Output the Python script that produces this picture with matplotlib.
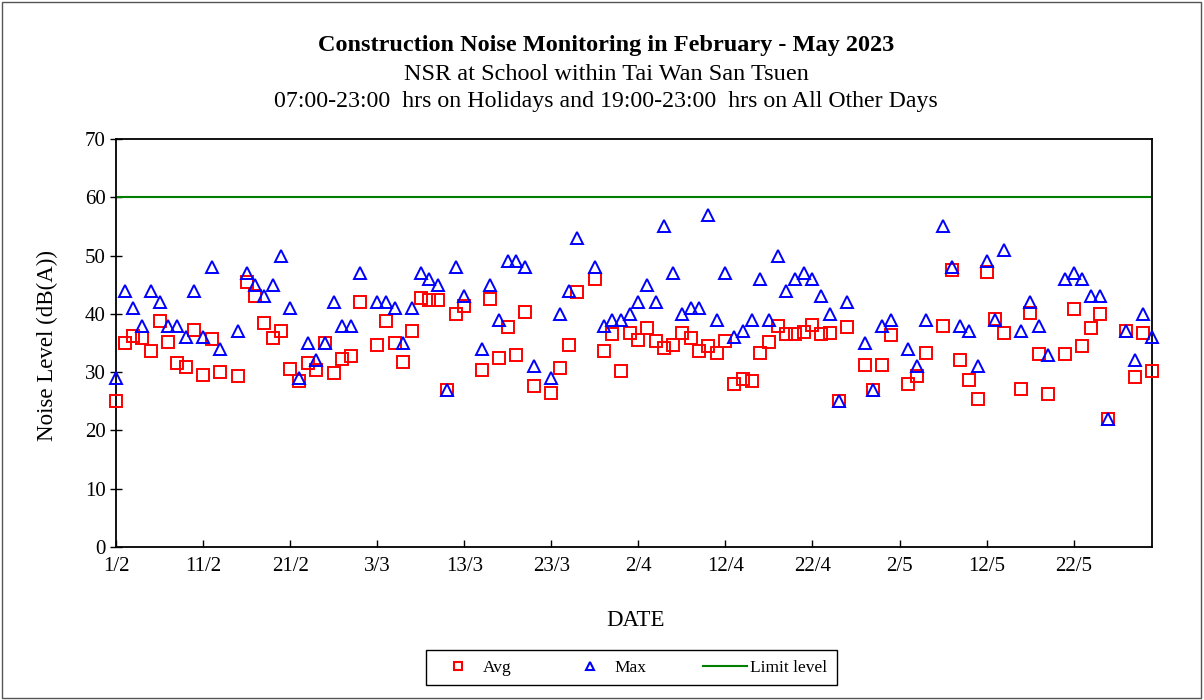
import numpy as np
import pandas as pd
import matplotlib
matplotlib.use("Agg")
import matplotlib.pyplot as plt
from matplotlib.lines import Line2D
from matplotlib.patches import Rectangle

plt.rcParams['font.family'] = ['Liberation Serif', 'DejaVu Serif']

dates = pd.date_range("2023-02-01", "2023-05-31", freq="D")
nan = np.nan
avg = [25.0, 35.0, 36.2, 35.8, 33.6, 38.7, 35.2, 31.5, 30.8, 37.2,
       29.5, 35.7, 30.0, nan, 29.4, 45.5, 43.1, 38.4, 35.9, 37.1,
       30.5, 28.5, 31.5, 30.4, 35.0, 29.8, 32.2, 32.8, 42.1, nan,
       34.7, 38.7, 35.0, 31.8, 37.1, 42.8, 42.4, 42.4, 27.0, 40.0,
       41.3, nan, 30.3, 42.5, 32.4, 37.7, 32.9, 40.4, 27.7, nan,
       26.5, 30.7, 34.7, 43.7, nan, 46.0, 33.7, 36.5, 30.2, 36.7,
       35.6, 37.5, 35.4, 34.2, 34.7, 36.7, 35.9, 33.7, 34.5, 33.3,
       35.3, 28.0, 28.8, 28.5, 33.2, 35.2, 37.9, 36.5, 36.5, 36.9,
       38.1, 36.5, 36.8, 25.0, 37.7, nan, 31.3, 27.0, 31.3, 36.4,
       nan, 28.0, 29.3, 33.2, nan, 38.0, 47.6, 32.0, 28.7, 25.4,
       47.1, 39.1, 36.8, nan, 27.1, 40.1, 33.1, 26.2, nan, 33.1,
       40.8, 34.4, 37.5, 40.0, 22.0, nan, 37.1, 29.2, 36.8, 30.2]
mx = [29, 44, 41, 38, 44, 42, 38, 38, 36, 44,
      36, 48, 34, nan, 37, 47, 45, 43, 45, 50,
      41, 29, 35, 32, 35, 42, 38, 38, 47, nan,
      42, 42, 41, 35, 41, 47, 46, 45, 27, 48,
      43, nan, 34, 45, 39, 49, 49, 48, 31, nan,
      29, 40, 44, 53, nan, 48, 38, 39, 39, 40,
      42, 45, 42, 55, 47, 40, 41, 41, 57, 39,
      47, 36, 37, 39, 46, 39, 50, 44, 46, 47,
      46, 43, 40, 25, 42, nan, 35, 27, 38, 39,
      nan, 34, 31, 39, nan, 55, 48, 38, 37, 31,
      49, 39, 51, nan, 37, 42, 38, 33, nan, 46,
      47, 46, 43, 43, 22, nan, 37, 32, 40, 36]
limit_level = 60
tick_dates = ["2023-02-01", "2023-02-11", "2023-02-21", "2023-03-03", "2023-03-13",
              "2023-03-23", "2023-04-02", "2023-04-12", "2023-04-22", "2023-05-02",
              "2023-05-12", "2023-05-22"]
tick_labels = ["1/2", "11/2", "21/2", "3/3", "13/3", "23/3", "2/4", "12/4",
               "22/4", "2/5", "12/5", "22/5"]

fig = plt.figure(figsize=(12.04, 7.0), dpi=100)
ax = fig.add_axes([116/1204, 1-547/700, (1152-116)/1204, (547-139)/700])

ax.plot(dates, avg, ls='none', marker='s', ms=8, mfc='none', mec='red', mew=1.4,
        clip_on=False, zorder=3)
ax.plot(dates, mx, ls='none', marker='^', ms=8, mfc='none', mec='blue', mew=1.4,
        clip_on=False, zorder=3)
ax.axhline(limit_level, color='green', lw=1.5)

ax.set_xlim(pd.Timestamp("2023-02-01"), pd.Timestamp("2023-05-31"))
ax.set_ylim(0, 70)
ax.set_yticks(range(0, 71, 10))
ax.set_xticks(pd.to_datetime(tick_dates))
ax.set_xticklabels(tick_labels)
ax.tick_params(axis='y', direction='inout', length=9, width=1, labelsize=15, pad=3)
ax.tick_params(axis='x', direction='in', length=5, width=1, labelsize=15, pad=7)
for s in ax.spines.values():
    s.set_linewidth(1.3)

fig.text(606/1204, 1-45/700, "Construction Noise Monitoring in February - May 2023",
         ha='center', va='center', fontsize=17.5, fontweight='bold')
fig.text(606/1204, 1-74/700, "NSR at School within Tai Wan San Tsuen",
         ha='center', va='center', fontsize=17.5)
fig.text(606/1204, 1-102/700, "07:00-23:00  hrs on Holidays and 19:00-23:00  hrs on All Other Days",
         ha='center', va='center', fontsize=17.2)
fig.text(47/1204, 1-346/700, "Noise Level (dB(A))", rotation=90,
         ha='center', va='center', fontsize=16.5)
fig.text(636/1204, 1-621/700, "DATE", ha='center', va='center', fontsize=16.5)

handles = [
    Line2D([], [], ls='none', marker='s', ms=6, mfc='none', mec='red', mew=1.5),
    Line2D([], [], ls='none', marker='^', ms=6, mfc='none', mec='blue', mew=1.5),
    Line2D([], [], color='green', lw=1.5),
]
leg = fig.legend(handles, ["Avg", "Max", "Limit level"], loc='center',
                 bbox_to_anchor=(631.5/1204, 1-667.5/700), ncol=3,
                 fontsize=12.5, frameon=True, fancybox=False, shadow=False,
                 handlelength=2.5, handletextpad=0.2, columnspacing=3.25,
                 borderpad=0.55, edgecolor='black', framealpha=1)
leg.get_frame().set_linewidth(1.0)

fig.patches.append(Rectangle((0.0015, 0.003), 0.996, 0.994, transform=fig.transFigure,
                             fill=False, edgecolor='#555555', lw=1.0))

fig.savefig("out.png", dpi=100)
